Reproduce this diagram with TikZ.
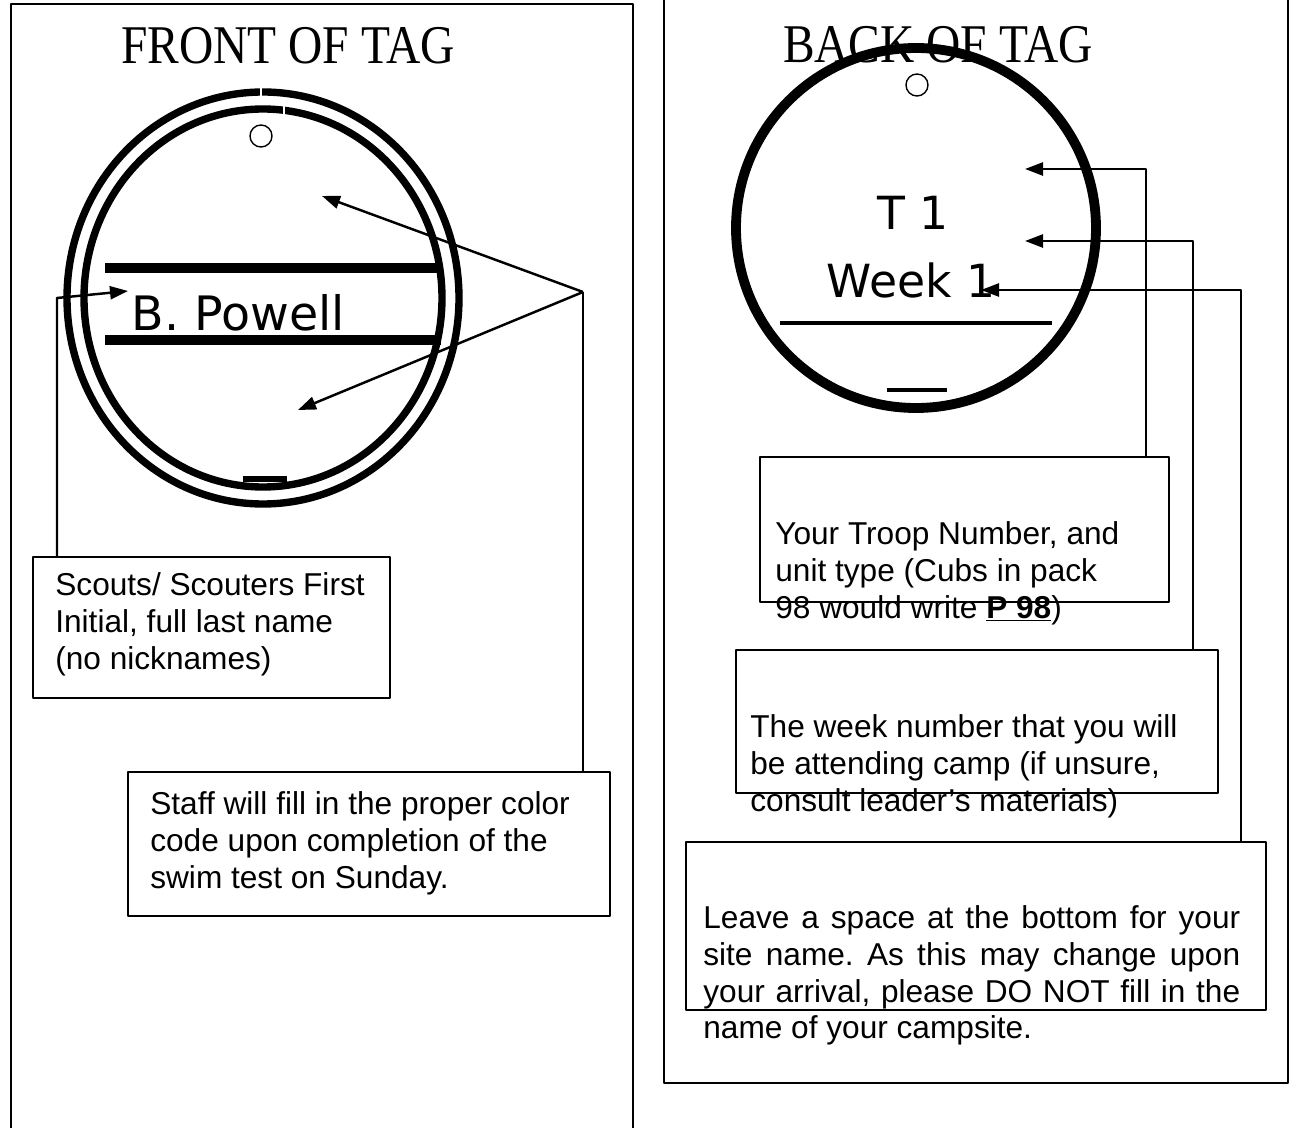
\documentclass[tikz,border=0pt]{standalone}
\usepackage{fontspec}
\setmainfont{Liberation Sans}
\newfontfamily\titlefont{Liberation Serif}
\newfontfamily\handfont{DejaVu Sans}
\usetikzlibrary{arrows.meta, positioning}
\frenchspacing

\tikzset{
  panel/.style={line width=0.9pt},
  ring/.style={line width=4.2pt},
  bar/.style={line width=5.5pt},
  hole/.style={line width=0.8pt},
  link/.style={line width=1.4pt},
  notebox/.style={draw, line width=1.4pt, inner sep=0pt, outer sep=0pt},
  notetext/.style={inner sep=0pt, anchor=north west, align=left, font=\fontsize{18}{21}\selectfont},
  tagtitle/.style={font=\titlefont\fontsize{27}{32}\selectfont, inner sep=0pt},
  hand/.style={font=\handfont\fontsize{26}{30}\selectfont, inner sep=0pt}
}
\newcommand{\tallcaps}[1]{\scalebox{1}[1.15]{#1}}

\begin{document}
\begin{tikzpicture}[x=0.02cm, y=-0.02cm, >={Triangle[length=0.36cm, width=0.26cm]}, line join=round]
    \useasboundingbox (0,0) rectangle (1289,1128);

    % Panels
    \draw[panel] (11,1128) -- (11,4) -- (633,4) -- (633,1128);
    \draw[panel] (664,0) -- (664,1083) -- (1288,1083) -- (1288,0);

    % Front of tag
    \node[tagtitle] (fronttitle) at (288,46) {\tallcaps{FRONT OF TAG}};
    \draw[ring] (263,298) ellipse [x radius=196, y radius=206];
    \draw[ring] (263,298) ellipse [x radius=179, y radius=189];
    \draw[white, line width=1.2pt] (261,84) -- (261,100);
    \draw[white, line width=1.2pt] (284,102) -- (284,116);
    \draw[hole] (261,136) circle [radius=11];
    \draw[bar] (105,268) -- (441,268);
    \draw[bar] (105,340) -- (441,340);
    \draw[line width=3pt] (243,479) -- (287,479);
    \node[hand, font=\handfont\fontsize{27}{32}\selectfont] (pname) at (238,313) {B. Powell};

    % Notes (front)
    \node[notebox, minimum width=7.14cm, minimum height=2.82cm] (namebox) at (211.5,627.5) {};
    \node[notetext] (nametext) at (55,572) {Scouts/ Scouters First\\Initial, full last name\\(no nicknames)};
    \node[notebox, minimum width=9.64cm, minimum height=2.88cm] (staffbox) at (369,844) {};
    \node[notetext] (stafftext) at (150,791) {Staff will fill in the proper color\\code upon completion of the\\swim test on Sunday.};

    % Arrows (front)
    \coordinate (namebend) at (57,298);
    \coordinate (nametip) at (128,291);
    \coordinate (fork) at (583,292);
    \coordinate (colortop) at (322,196);
    \coordinate (colorbot) at (298,410);
    \draw[link, ->] (namebend |- namebox.north) -- (namebend) -- (nametip);
    \draw[link] (fork |- staffbox.north) -- (fork);
    \draw[link, ->] (fork) -- (colortop);
    \draw[link, ->] (fork) -- (colorbot);

    % Back of tag
    \node[tagtitle] (backtitle) at (938,45) {\tallcaps{BACK OF TAG}};
    \draw[line width=5.6pt] (916,228) circle [radius=180];
    \draw[hole] (917,85) circle [radius=11];
    \node[hand] (troop) at (913,213) {T 1};
    \node[hand] (week) at (911,280) {Week 1};
    \draw[line width=2.4pt] (780,323) -- (1052,323);
    \draw[line width=2.4pt] (887,390) -- (947,390);

    % Notes (back)
    \node[notebox, minimum width=8.18cm, minimum height=2.9cm] (troopbox) at (964.5,529.5) {};
    \node[notetext] (trooptext) at (775,521) {Your Troop Number, and\\unit type (Cubs in pack\\98 would write \underline{\textbf{P 98}})};
    \node[notebox, minimum width=9.64cm, minimum height=2.86cm] (weekbox) at (977,721.5) {};
    \node[notetext] (weektext) at (750,714) {The week number that you will\\be attending camp (if unsure,\\consult leader's materials)};
    \node[notebox, minimum width=11.6cm, minimum height=3.36cm] (sitebox) at (976,926) {};
    \node[notetext, text width=10.74cm, align=justify] (sitetext) at (703,905) {Leave a space at the bottom for your\linebreak site name. As this may change upon\linebreak your arrival, please DO NOT fill in the\linebreak name of your campsite.};

    % Arrows (back)
    \coordinate (troopbend) at (1146,169);
    \coordinate (trooptip) at (1025,169);
    \coordinate (weekbend) at (1193,241);
    \coordinate (weektip) at (1025,241);
    \coordinate (sitebend) at (1241,290);
    \coordinate (sitetip) at (981,290);
    \draw[link, ->] (troopbend |- troopbox.north) -- (troopbend) -- (trooptip);
    \draw[link, ->] (weekbend |- weekbox.north) -- (weekbend) -- (weektip);
    \draw[link, ->] (sitebend |- sitebox.north) -- (sitebend) -- (sitetip);
\end{tikzpicture}
\end{document}
